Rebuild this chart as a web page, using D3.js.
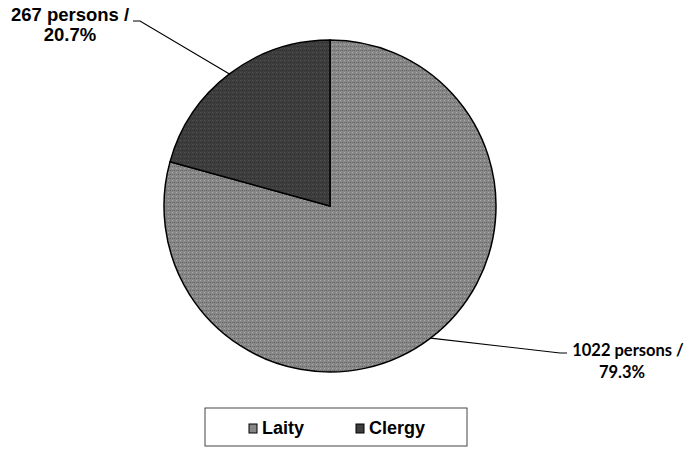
<!DOCTYPE html>
<html>
<head>
<meta charset="utf-8">
<script src="https://cdn.jsdelivr.net/npm/d3@7"></script>
<style>
  body { margin: 0; background: #fff; }
  svg { display: block; }
</style>
</head>
<body>
<svg id="chart" width="689" height="450"></svg>
<script>
const categories = ['Laity', 'Clergy'];
const counts = [1022, 267];
const colors = ['#878787', '#3e3e3e'];

const width = 689, height = 450;
const cx = 330, cy = 206, radius = 166;

const svg = d3.select('#chart');
const total = d3.sum(counts);

const pie = d3.pie().sort(null).value(d => d.value);
const arcs = pie(categories.map((c, i) => ({ name: c, value: counts[i] })));
const arc = d3.arc().innerRadius(0).outerRadius(radius);

// light speckle pattern to mimic the scanned halftone
const defs = svg.append('defs');
colors.forEach((col, i) => {
	const p = defs.append('pattern')
		.attr('id', `tex-${i}`)
		.attr('width', 4).attr('height', 4)
		.attr('patternUnits', 'userSpaceOnUse');
	p.append('rect').attr('width', 4).attr('height', 4).attr('fill', col);
	p.append('rect').attr('x', 0).attr('y', 0).attr('width', 1).attr('height', 1)
		.attr('fill', d3.color(col).darker(1));
	p.append('rect').attr('x', 2).attr('y', 2).attr('width', 1).attr('height', 1)
		.attr('fill', d3.color(col).brighter(0.7));
	p.append('rect').attr('x', 2).attr('y', 0).attr('width', 1).attr('height', 1)
		.attr('fill', d3.color(col).darker(0.5));
});

const g = svg.append('g').attr('transform', `translate(${cx},${cy})`);

g.selectAll('path.slice')
	.data(arcs)
	.enter().append('path')
	.attr('class', 'slice')
	.attr('d', arc)
	.attr('fill', (d, i) => `url(#tex-${i})`)
	.attr('stroke', '#000')
	.attr('stroke-width', 1.5);

// label layout: knee / end (relative to pie center) and text position
const labelSpots = [
	{ knee: [230, 147], end: [237, 147], tx: 298, ty: 150, tx2: 292, font: "bold 16.5px Lato, 'Open Sans', sans-serif", lh: 22 },
	{ knee: [-190, -185], end: [-197, -185], tx: -260, ty: -185, tx2: -260, font: "bold 18.5px 'Liberation Sans', Arial, sans-serif", lh: 20 }
];

arcs.forEach((d, i) => {
	const mid = (d.startAngle + d.endAngle) / 2;
	const p0 = [radius * Math.sin(mid), -radius * Math.cos(mid)];
	const s = labelSpots[i];
	g.append('polyline')
		.attr('points', [p0, s.knee, s.end].map(p => p.join(',')).join(' '))
		.attr('fill', 'none')
		.attr('stroke', '#000')
		.attr('stroke-width', 1.2);
	const pct = (d.value / total * 100).toFixed(1);
	const t = g.append('text')
		.attr('text-anchor', 'middle')
		.style('font', s.font)
		.attr('fill', '#000');
	t.append('tspan').attr('x', s.tx).attr('y', s.ty).text(`${d.value} persons /`);
	t.append('tspan').attr('x', s.tx2).attr('y', s.ty + s.lh).text(`${pct}%`);
});

// legend
const legend = svg.append('g').attr('transform', 'translate(205,408)');
legend.append('rect')
	.attr('width', 262).attr('height', 38)
	.attr('fill', '#fff')
	.attr('stroke', '#444')
	.attr('stroke-width', 1);

const legX = d3.scalePoint().domain(categories).range([44, 151]);
const items = legend.selectAll('g.item')
	.data(categories)
	.enter().append('g')
	.attr('class', 'item')
	.attr('transform', d => `translate(${legX(d)},19)`);
items.append('rect')
	.attr('x', 0).attr('y', -3)
	.attr('width', 8).attr('height', 9)
	.attr('fill', (d, i) => colors[i])
	.attr('stroke', '#000')
	.attr('stroke-width', 1);
items.append('text')
	.attr('x', 13).attr('y', 7)
	.style('font', "bold 18px 'Liberation Sans', Arial, sans-serif")
	.text(d => d);
</script>
</body>
</html>
